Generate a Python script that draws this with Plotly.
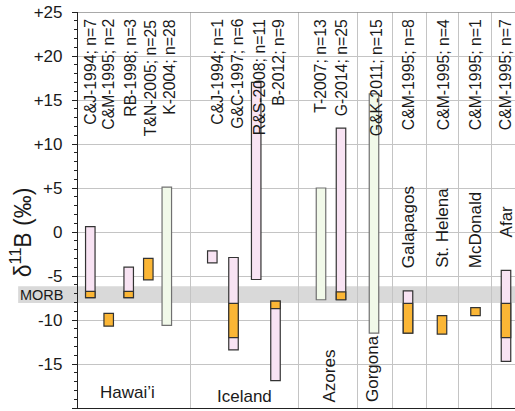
import plotly.graph_objects as go

# ---------------- data ----------------
refs = ["C&J-1994; n=7", "C&M-1995; n=2", "RB-1998; n=3", "T&N-2005; n=25", "K-2004; n=28",
        "C&J-1994; n=1", "G&C-1997; n=6", "R&S-2008; n=11", "B-2012; n=9",
        "T-2007; n=13", "G-2014; n=25", "G&K-2011; n=15",
        "C&M-1995; n=8", "C&M-1995; n=4", "C&M-1995; n=1", "C&M-1995; n=7"]

# whole range (pink)
pink_hi = [0.6, None, -4.0, None, None, -2.15, -2.9, 17.0, -7.85, None, 11.8, None, -6.7, None, None, -4.35]
pink_lo = [-7.45, None, -7.45, None, None, -3.5, -13.4, -5.4, -16.9, None, -7.7, None, -11.5, None, None, -14.7]
# sub range (orange)
orng_hi = [-6.75, -9.25, -6.75, -3.0, None, None, -8.1, None, -7.85, None, -6.8, None, -8.1, -9.5, -8.6, -8.1]
orng_lo = [-7.45, -10.7, -7.45, -5.45, None, None, -12.0, None, -8.7, None, -7.7, None, -11.5, -11.6, -9.5, -12.0]
# other range (green)
grn_hi = [None, None, None, None, 5.1, None, None, None, None, 5.0, None, 15.7, None, None, None, None]
grn_lo = [None, None, None, None, -10.6, None, None, None, None, -7.7, None, -11.5, None, None, None, None]

regions = ["Hawai\u2019i", "Iceland", "Azores", "Gorgona", "Galapagos", "St. Helena", "McDonald", "Afar"]
morb_range = [-6.17, -8.07]
y_ticks = [-20, -15, -10, -5, 0, 5, 10, 15, 20, 25]
y_ticktext = ["-20", "-15", "-10", "-5", "0", "+5", "+10", "+15", "+20", "+25"]

# ---------------- layout positions (slot units) ----------------
bar_x = [1.23, 3.07, 5.07, 7.03, 8.88, 13.43, 15.55, 17.82, 19.75,
         24.3, 26.3, 29.6, 33.0, 36.4, 39.75, 42.8]
label_x = [1.1, 2.95, 5.1, 7.1, 9.0, 13.8, 15.8, 17.95, 19.95,
           24.1, 26.2, 29.7, 32.9, 36.4, 39.6, 42.6]
dividers = [11.2, 22.0, 27.9, 31.4, 34.8, 38.0, 41.3]
region_x = [4.9, 16.65, 25.0, 29.35, 32.85, 36.3, 39.6, 42.7]
region_y = [-18.25, -18.7, -19.6, -19.6, -4.35, -4.35, -4.35, -0.9]
region_angle = [0, 0, -90, -90, -90, -90, -90, -90]

FONT = "Liberation Sans, Arial, Helvetica, sans-serif"
BAR_W = 0.95


def ranged_bar(hi, lo, fill, line):
    xs, ys, bs = [], [], []
    for x, h, l in zip(bar_x, hi, lo):
        if h is None or l is None:
            continue
        xs.append(x)
        ys.append(h - l)
        bs.append(l)
    return go.Bar(x=xs, y=ys, base=bs, width=BAR_W,
                  marker=dict(color=fill, line=dict(color=line, width=1.2)),
                  showlegend=False, hoverinfo="skip")


fig = go.Figure()
fig.add_trace(ranged_bar(pink_hi, pink_lo, "#F8E3F3", "#333333"))
fig.add_trace(ranged_bar(grn_hi, grn_lo, "#F1F9E9", "#707070"))
fig.add_trace(ranged_bar(orng_hi, orng_lo, "#FBB635", "#333333"))

annotations = []
for t, x in zip(refs, label_x):
    annotations.append(dict(x=x, y=24.4, xref="x", yref="y", text=t, textangle=-90,
                            xanchor="center", yanchor="top", showarrow=False, xshift=1.5,
                            font=dict(family=FONT, size=15.8, color="#1a1a1a")))
for t, x, y, a in zip(regions, region_x, region_y, region_angle):
    annotations.append(dict(x=x, y=y, xref="x", yref="y", text=t, textangle=a,
                            xanchor="center", yanchor="middle" if a == 0 else "bottom",
                            showarrow=False, xshift=0 if a == 0 else 1.5,
                            font=dict(family=FONT, size=17, color="#1a1a1a")))
annotations.append(dict(x=-0.137, y=sum(morb_range) / 2, xref="paper", yref="y", text="MORB",
                        xanchor="left", yanchor="middle", showarrow=False,
                        font=dict(family=FONT, size=14.5, color="#1a1a1a")))
annotations.append(dict(x=-0.13, y=0, xref="paper", yref="y", text="\u03b4<sup>11</sup>B (\u2030)",
                        textangle=-90, xanchor="center", yanchor="middle", showarrow=False,
                        font=dict(family=FONT, size=23, color="#1a1a1a")))

shapes = [
    dict(type="rect", xref="paper", yref="y", x0=-0.137, x1=1, y0=morb_range[1], y1=morb_range[0],
         fillcolor="#D9D9D9", line=dict(width=0), layer="below"),
    dict(type="line", xref="paper", yref="y", x0=0, x1=1, y0=25, y1=25,
         line=dict(color="#8c8c8c", width=1.5)),
]

fig.update_layout(
    width=515, height=411,
    margin=dict(l=78, r=0, t=12, b=3),
    paper_bgcolor="white", plot_bgcolor="white",
    barmode="overlay",
    font=dict(family=FONT, size=17, color="#1a1a1a"),
    annotations=annotations, shapes=shapes,
    xaxis=dict(range=[0, 43.7], tickvals=dividers, showticklabels=False, ticks="",
               showgrid=True, gridcolor="#C4C4C4", gridwidth=1, zeroline=False,
               showline=True, linecolor="#222222", linewidth=1.2, fixedrange=True),
    yaxis=dict(range=[-20, 25], tickvals=y_ticks, ticktext=y_ticktext,
               ticks="outside", ticklen=5, tickcolor="#222222", tickwidth=1,
               ticklabelstandoff=6,
               showgrid=True, gridcolor="#C4C4C4", gridwidth=1, zeroline=False,
               showline=True, linecolor="#222222", linewidth=1.2,
               tickfont=dict(family=FONT, size=17, color="#1a1a1a"),
               minor=dict(dtick=1, ticks="outside", ticklen=3, tickcolor="#222222", showgrid=False),
               fixedrange=True),
)

fig.write_html("out.html", config={"displayModeBar": False},
               post_script="document.body.style.margin='0';document.body.style.overflow='hidden';")
